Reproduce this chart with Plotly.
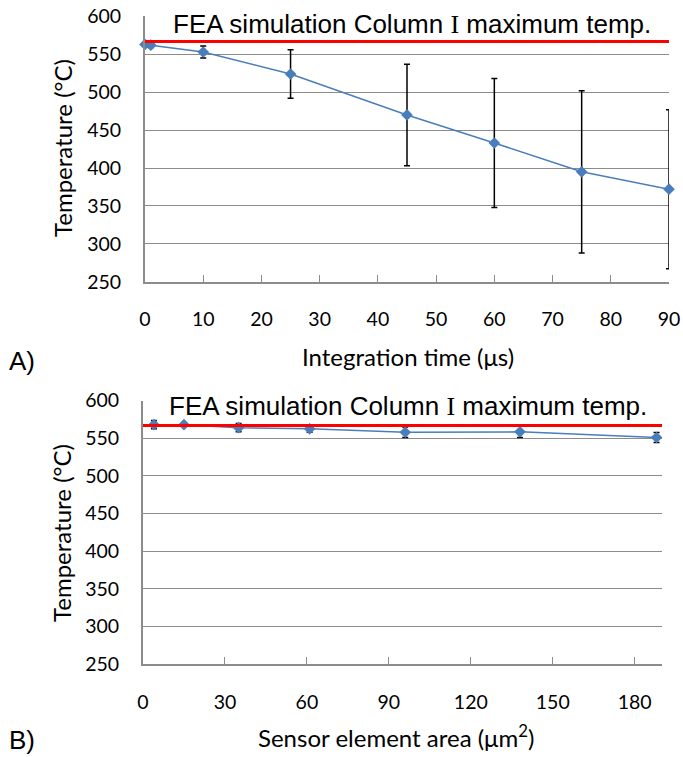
import plotly.graph_objects as go

# ---- data ----
time_us = [0, 1, 10, 25, 45, 60, 75, 90]
temp_a = [563, 562, 553, 524, 470, 433, 395, 372]
err_a = [3, 3, 8, 32, 67, 85, 107, 105]

area_um2 = [4, 15, 35, 61, 96, 138, 188]
temp_b = [568, 568, 564, 562.5, 558, 558.5, 551]
err_b = [5.5, 2, 5.5, 4.5, 7, 7.5, 6.5]

fea_max_temp = 567
fea_label = 'FEA simulation Column <span style="font-family:Liberation Serif">I</span> maximum temp.'

W, H = 683, 757
def fx(px):
    return px / W
def fy(py):
    return 1 - py / H

BLUE = "#4A7EBB"
GRID = "#8C8C8C"
TICKFONT = dict(family="Lato, Carlito, sans-serif", size=19.5, color="#000")
TITLEFONT = dict(family="Lato, Carlito, sans-serif", size=24, color="#000")
ARIAL = "Liberation Sans, Arial"

fig = go.Figure()

def add_series(x, y, e, xa, ya):
    fig.add_trace(go.Scatter(
        x=x, y=y, mode="lines+markers",
        line=dict(color=BLUE, width=1.5),
        marker=dict(symbol="diamond", size=9, color=BLUE),
        error_y=dict(type="data", array=e, visible=True, color="#000", thickness=1.5, width=3),
        xaxis=xa, yaxis=ya, cliponaxis=False, showlegend=False))

add_series(time_us, temp_a, err_a, "x", "y")
add_series(area_um2, temp_b, err_b, "x2", "y2")

# FEA maximum temperature reference lines
fig.add_trace(go.Scatter(x=[0, 90], y=[fea_max_temp, fea_max_temp], mode="lines",
                         line=dict(color="#FF0000", width=3), xaxis="x", yaxis="y",
                         showlegend=False, hoverinfo="skip", cliponaxis=False))
fig.add_trace(go.Scatter(x=[0, 190], y=[fea_max_temp, fea_max_temp], mode="lines",
                         line=dict(color="#FF0000", width=3), xaxis="x2", yaxis="y2",
                         showlegend=False, hoverinfo="skip", cliponaxis=False))

xcommon = dict(showgrid=False, zeroline=False, showline=True, linecolor=GRID, linewidth=2,
               ticks="inside", ticklen=7, tickcolor=GRID, tickwidth=1, automargin=False,
               tickfont=TICKFONT, ticklabelstandoff=19)
ycommon = dict(range=[250, 600], dtick=50, showgrid=True, gridcolor=GRID, gridwidth=1.2,
               zeroline=False, showline=True, linecolor=GRID, linewidth=2, ticks="",
               automargin=False, tickfont=TICKFONT, ticklabelstandoff=18)

fig.update_layout(
    width=W, height=H, autosize=False,
    margin=dict(l=0, r=0, t=0, b=0, pad=0),
    paper_bgcolor="white", plot_bgcolor="white",
    xaxis=dict(domain=[fx(145), fx(669)], range=[0, 90], dtick=10, anchor="y", **xcommon),
    yaxis=dict(domain=[fy(281.7), fy(16.4)], anchor="x", **ycommon),
    xaxis2=dict(domain=[fx(143), fx(662)], range=[0, 190], dtick=30, anchor="y2", **xcommon),
    yaxis2=dict(domain=[fy(664.3), fy(400.6)], anchor="x2", **ycommon),
)

# white boxes hiding the top gridline behind the in-chart label (between grid and traces)
fig.add_shape(type="rect", xref="paper", yref="paper", x0=fx(160), x1=fx(661),
              y0=fy(26), y1=fy(8), fillcolor="white", line=dict(width=0), layer="between")
fig.add_shape(type="rect", xref="paper", yref="paper", x0=fx(158), x1=fx(657),
              y0=fy(410), y1=fy(392), fillcolor="white", line=dict(width=0), layer="between")

ann = []
ann.append(dict(text=fea_label, x=fx(412), y=fy(24), xref="paper", yref="paper",
                showarrow=False, xanchor="center", yanchor="middle",
                font=dict(family=ARIAL, size=26, color="#000")))
ann.append(dict(text=fea_label, x=fx(408), y=fy(406), xref="paper", yref="paper",
                showarrow=False, xanchor="center", yanchor="middle",
                font=dict(family=ARIAL, size=26, color="#000")))
# axis titles
ann.append(dict(text="Integration time (μs)", x=fx(408), y=fy(357), xref="paper", yref="paper",
                showarrow=False, xanchor="center", yanchor="middle", font=TITLEFONT))
ann.append(dict(text="Sensor element area (μm<sup>2</sup>)", x=fx(396), y=fy(736), xref="paper", yref="paper",
                showarrow=False, xanchor="center", yanchor="middle", font=TITLEFONT))
ann.append(dict(text="Temperature (°C)", x=fx(63), y=fy(148), xref="paper", yref="paper",
                showarrow=False, xanchor="center", yanchor="middle", textangle=-90, font=TITLEFONT))
ann.append(dict(text="Temperature (°C)", x=fx(61), y=fy(533), xref="paper", yref="paper",
                showarrow=False, xanchor="center", yanchor="middle", textangle=-90, font=TITLEFONT))
# panel labels
ann.append(dict(text="A)", x=fx(7), y=fy(361), xref="paper", yref="paper",
                showarrow=False, xanchor="left", yanchor="middle",
                font=dict(family=ARIAL, size=26, color="#000")))
ann.append(dict(text="B)", x=fx(7), y=fy(740), xref="paper", yref="paper",
                showarrow=False, xanchor="left", yanchor="middle",
                font=dict(family=ARIAL, size=26, color="#000")))
fig.update_layout(annotations=ann)

fig.write_html("out.html")
